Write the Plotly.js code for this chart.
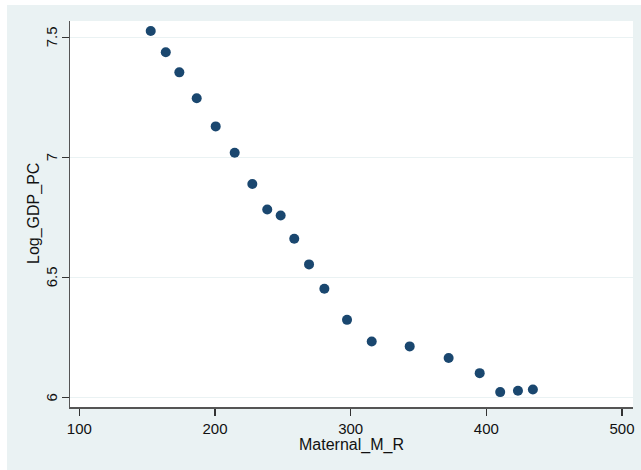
<!DOCTYPE html>
<html>
<head>
<meta charset="utf-8">
<script src="https://cdn.plot.ly/plotly-3.0.1.min.js"></script>
<style>html,body{margin:0;padding:0;background:#ffffff;overflow:hidden;}
#chart{position:absolute;left:7px;top:5px;}</style>
</head>
<body>
<div id="chart" style="width:634px;height:465px;"></div>
<script>
const maternalMR = [152.6, 163.7, 173.7, 186.5, 200.5, 214.5, 227.5, 238.5, 248.4, 258.4,
                    269.3, 280.6, 297.3, 315.5, 343.5, 372.2, 395.1, 410.2, 423.3, 434.3];
const logGdpPc = [7.526, 7.4375, 7.354, 7.246, 7.129, 7.019, 6.889, 6.783, 6.758, 6.661,
                  6.554, 6.4525, 6.323, 6.233, 6.2125, 6.164, 6.101, 6.022, 6.028, 6.033];
const xTicks = [100, 200, 300, 400, 500];
const yTicks = [6, 6.5, 7, 7.5];
const yTickLabels = ["6", "6.5", "7", "7.5"];

const tickFont = {family: "Liberation Sans, Arial, sans-serif", size: 15, color: "#111"};
const titleFont = {family: "Liberation Sans, Arial, sans-serif", size: 16, color: "#111"};
const trace = {
  x: maternalMR, y: logGdpPc, type: "scatter", mode: "markers",
  marker: {color: "#1a476f", size: 10, line: {width: 0}},
  hoverinfo: "x+y"
};
const yLabelAnnotations = yTicks.map((v, i) => ({
  xref: "paper", yref: "y", x: 0, y: v, text: yTickLabels[i],
  showarrow: false, textangle: -90, xanchor: "center", yanchor: "middle",
  xshift: -19, font: tickFont
}));
const layout = {
  width: 634, height: 465,
  paper_bgcolor: "#eaf2f3", plot_bgcolor: "#ffffff",
  margin: {l: 63, r: 8, t: 16, b: 63},
  showlegend: false,
  font: tickFont,
  xaxis: {
    range: [93.1, 508.1], tickvals: xTicks, ticktext: xTicks.map(String),
    showgrid: false, zeroline: false,
    showline: true, linecolor: "#555", linewidth: 1.5,
    ticks: "outside", ticklen: 7, tickcolor: "#333", tickwidth: 1.3,
    tickfont: tickFont,
    title: {text: "Maternal_M_R", font: titleFont, standoff: 2}
  },
  yaxis: {
    range: [5.96, 7.568], tickvals: yTicks, showticklabels: false,
    showgrid: true, gridcolor: "#eaf2f3", gridwidth: 1.3, zeroline: false,
    showline: true, linecolor: "#555", linewidth: 1.5,
    ticks: "outside", ticklen: 7, tickcolor: "#333", tickwidth: 1.3,
    automargin: false
  },
  annotations: yLabelAnnotations.concat([{
    xref: "paper", yref: "paper", x: 0, y: 0.5, text: "Log_GDP_PC",
    showarrow: false, textangle: -90, xanchor: "center", yanchor: "middle",
    xshift: -36, font: titleFont
  }])
};
Plotly.newPlot("chart", [trace], layout, {staticPlot: true, displayModeBar: false});
</script>
</body>
</html>
